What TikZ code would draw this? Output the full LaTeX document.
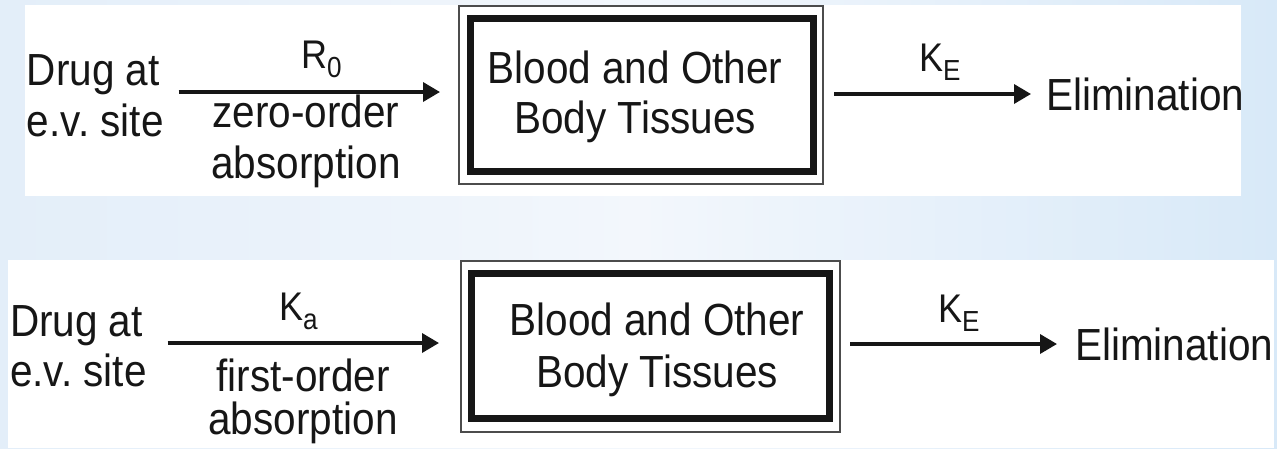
\documentclass[tikz,border=0pt]{standalone}
\usepackage{fontspec}
\setmainfont{Liberation Sans}[FakeStretch=0.9]
\usetikzlibrary{arrows.meta}
\definecolor{bgL}{HTML}{E3EEF9}
\definecolor{bgM}{HTML}{F3F7FC}
\definecolor{bgR}{HTML}{D8E9F8}
\definecolor{ink}{HTML}{161616}
\newcommand{\mainfs}[1]{\fontsize{45}{#1}\selectfont}
\newcommand{\labfs}{\fontsize{40}{44}\selectfont}
\newcommand{\mysub}[1]{\raisebox{-9pt}{\fontsize{29}{29}\selectfont #1}}
\frenchspacing
\begin{document}
\begin{tikzpicture}[x=1pt,y=-1pt,
  txt/.style={inner sep=0pt, outer sep=0pt, text=ink},
  lbl/.style={inner sep=0pt, outer sep=0pt, text=ink, font=\labfs},
  thinframe/.style={draw=black!70, line width=1.6pt, inner sep=0pt, outer sep=0pt},
  thickframe/.style={draw=ink, line width=7.5pt, inner sep=0pt, outer sep=0pt},
  conn/.style={draw=ink, line width=3.5pt, -{Triangle[length=17pt,width=19pt]}}]

\useasboundingbox (0,0) rectangle (1277,448);
\shade[left color=bgL, right color=bgR, middle color=bgM] (0,0) rectangle (1277,448);
\fill[white] (25,5) rectangle (1241,196);
\fill[white] (8,260) rectangle (1274,448);

% ---------- top: zero-order ----------
\coordinate (lvl1) at (0,92);
\coordinate (lvl1b) at (0,94);
\node[txt, font={\mainfs{51}}, align=left, anchor=west] (drug1) at (27,95.5) {Drug at\\e.v. site};
\node[thinframe, minimum width=364pt, minimum height=178pt] (box1o) at (641,95) {};
\node[thickframe, minimum width=343pt, minimum height=153pt] (box1f) at (642,95) {};
\node[txt, font={\mainfs{50}}, align=center] (box1) at (635,96.6) {Blood and Other\\Body Tissues};
\node[txt, font={\mainfs{51}}, anchor=base west] (elim1) at (1046,110) {Elimination};
\node[lbl, anchor=base west] (r0) at (301,68) {R\mysub{0}};
\node[txt, font={\mainfs{51}}, align=center] (zo1) at (306,141.1) {zero-order\\absorption};
\node[lbl, anchor=base west] (ke1) at (919,71) {K\mysub{E}};
\draw[conn, shorten <=15pt, shorten >=19pt] (drug1.east |- lvl1) -- (box1o.west |- lvl1);
\draw[conn, shorten <=11pt, shorten >=15pt] (box1o.east |- lvl1b) -- (elim1.west |- lvl1b);

% ---------- bottom: first-order ----------
\coordinate (lvl2) at (0,343);
\coordinate (lvl2b) at (0,344);
\node[txt, font={\mainfs{50}}, align=left, anchor=west] (drug2) at (10,346) {Drug at\\e.v. site};
\node[thinframe, minimum width=379pt, minimum height=171pt] (box2o) at (650.5,346.5) {};
\node[thickframe, minimum width=358pt, minimum height=145pt] (box2f) at (650.5,346) {};
\node[txt, font={\mainfs{52}}, align=center] (box2) at (657,349.6) {Blood and Other\\Body Tissues};
\node[txt, font={\mainfs{51}}, anchor=base west] (elim2) at (1075,360) {Elimination};
\node[lbl, anchor=base west] (ka2) at (279,320) {K\mysub{a}};
\node[txt, font={\mainfs{43}}, align=center] (fo2) at (303,401.8) {first-order\\absorption};
\node[lbl, anchor=base west] (ke2) at (938,322) {K\mysub{E}};
\draw[conn, shorten <=21pt, shorten >=22pt] (drug2.east |- lvl2) -- (box2o.west |- lvl2);
\draw[conn, shorten <=10pt, shorten >=18pt] (box2o.east |- lvl2b) -- (elim2.west |- lvl2b);
\end{tikzpicture}
\end{document}
